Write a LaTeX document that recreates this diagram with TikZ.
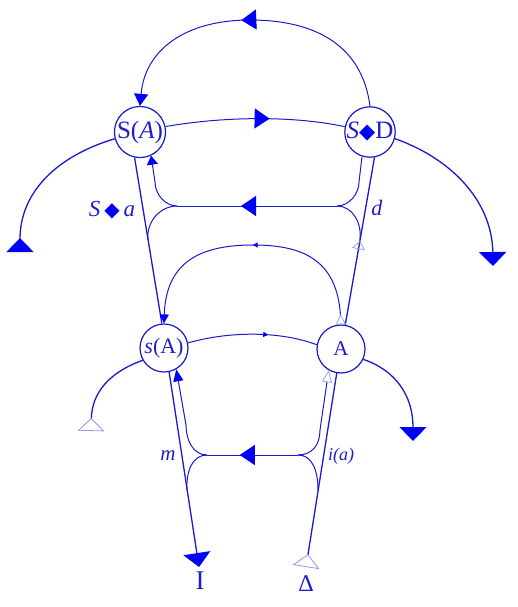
\documentclass[tikz,border=0pt]{standalone}
\usepackage{fontspec}
\setmainfont{Liberation Serif}
\newfontfamily\djv{DejaVu Sans}
\usetikzlibrary{arrows.meta,decorations.markings}
\definecolor{ln}{RGB}{25,25,205}
\definecolor{af}{RGB}{0,0,250}
\definecolor{op}{RGB}{150,150,225}
\definecolor{tx}{RGB}{30,30,200}
\newcommand{\dia}[1]{{\djv\fontsize{#1}{#1}\selectfont\color{af}\char"25C6}}
\tikzset{
  conn/.style={draw=ln, line width=1.3pt},
  thin conn/.style={draw=ln, line width=1.0pt},
  circ/.style={circle, draw=ln, line width=1.2pt, fill=white, minimum size=50pt, inner sep=0pt, text=tx},
  lbl/.style={text=tx, inner sep=0pt},
  midarrow/.style 2 args={postaction={decorate}, decoration={markings, mark=at position #1 with {\arrow{#2}}}},
  mid/.tip={Triangle[length=15pt,width=20pt,color=af]},
  tiny/.tip={Triangle[length=5pt,width=5pt,color=af]},
  fbig/.tip={Triangle[length=14pt,width=27pt,color=af]},
  obig/.tip={Triangle[length=13pt,width=27pt,open,color=op,line width=0.8pt]},
}
\begin{document}
\begin{tikzpicture}[x=1pt,y=-1pt]
\useasboundingbox (0,0) rectangle (517,607);
% nodes
\node[circ, font=\fontsize{25}{25}\selectfont] (SA) at (140,132) {S(\textit{A})};
\node[circ, font=\fontsize{25}{25}\selectfont] (SD) at (370,132) {\textit{S}\dia{21}D};
\node[circ, minimum size=48pt, font=\fontsize{22}{22}\selectfont] (sA) at (164,348) {\textit{s}(A)};
\node[circ, minimum size=48pt, font=\fontsize{21}{21}\selectfont] (A) at (341,349) {A};
% free ends
\coordinate (eL1) at (20,252);
\coordinate (eR1) at (493,266);
\coordinate (eL2) at (91,431);
\coordinate (eR2) at (413,441);
\coordinate (eI) at (199,567);
\coordinate (eD) at (306,567);
\coordinate (h1l) at (177,206);
\coordinate (h1r) at (337,206);
\coordinate (h2l) at (207,455);
\coordinate (h2r) at (298,455);
% upper level
\draw[thin conn, midarrow={0.54}{mid}, -{Triangle[length=12pt,width=14pt,color=af]}]
  (SD.north) .. controls (362,45) and (315,20) .. (250,20) .. controls (185,20) and (145,50) .. (SA.north);
\draw[thin conn, midarrow={0.58}{mid}] (SA.12) .. controls (220,117) and (290,115) .. (SD.168);
\draw[conn, -{fbig[reversed]}] (SA.195) .. controls (60,155) and (20,190) .. (eL1);
\draw[conn, -{fbig}] (SD.-15) .. controls (450,158) and (492,200) .. (eR1);
\draw[conn] (SA.258) -- (sA.95);
\draw[conn, midarrow={0.5}{Triangle[length=8pt,width=13pt,open,color=op,line width=0.7pt]}] (A.80) -- (SD.280);
\draw[thin conn, -{Triangle[length=9pt,width=11pt,color=af]}] (h1l) .. controls (165,206) and (155,194) .. (155,182) -- (SA.295);
\draw[thin conn] (h1r) .. controls (349,206) and (359,194) .. (359,182) -- (SD.252);
\draw[thin conn] (h1l) .. controls (160,206) and (146,222) .. (148,240);
\draw[thin conn] (h1r) .. controls (352,206) and (362,222) .. (360,240);
\draw[thin conn, midarrow={0.6}{mid}] (h1r) -- (h1l);
% lower level
\draw[thin conn, midarrow={0.62}{tiny}] (sA.12) .. controls (230,331) and (280,331) .. (A.170);
\draw[thin conn, {Triangle[reversed,length=10pt,width=10pt,open,color=op,line width=0.7pt]}-{Triangle[length=9pt,width=9pt,color=af]}, midarrow={0.5}{tiny}]
  (A.north) .. controls (337,258) and (300,245) .. (253,245) .. controls (200,245) and (166,262) .. (sA.north);
\draw[conn, -{obig[reversed]}] (sA.210) .. controls (110,372) and (92,392) .. (eL2);
\draw[conn, -{fbig}] (A.-25) .. controls (395,370) and (413,395) .. (eR2);
\draw[conn, -{fbig}] (sA.282) -- (eI);
\draw[conn, -{obig[reversed]}] (A.260) -- (eD);
\draw[thin conn, -{Triangle[length=12pt,width=10pt,color=af]}] (h2l) .. controls (193,455) and (186,440) .. (186,425) -- (sA.300);
\draw[thin conn, -{Triangle[length=12pt,width=10pt,open,color=op,line width=0.7pt]}] (h2r) .. controls (312,455) and (320,445) .. (320,430) -- (A.240);
\draw[thin conn] (h2l) .. controls (193,455) and (186,470) .. (187,490);
\draw[thin conn] (h2r) .. controls (312,455) and (318,470) .. (318,490);
\draw[thin conn, midarrow={0.64}{mid}] (h2r) -- (h2l);
% labels
\node[lbl, font=\fontsize{23}{23}\selectfont] (la) at (112,210) {\textit{S}\,\dia{20}\,\textit{a}};
\node[lbl, font=\fontsize{22}{22}\selectfont] (ld) at (377,208) {\textit{d}};
\node[lbl, font=\fontsize{21}{21}\selectfont] (lm) at (168,456) {\textit{m}};
\node[lbl, font=\fontsize{18}{18}\selectfont] (li) at (341,456) {\textit{i(a)}};
\node[lbl, font=\fontsize{27}{27}\selectfont] (lI) at (200,581) {I};
\node[lbl, font=\fontsize{24}{24}\selectfont] (lD) at (306,584) {Δ};
\end{tikzpicture}
\end{document}
